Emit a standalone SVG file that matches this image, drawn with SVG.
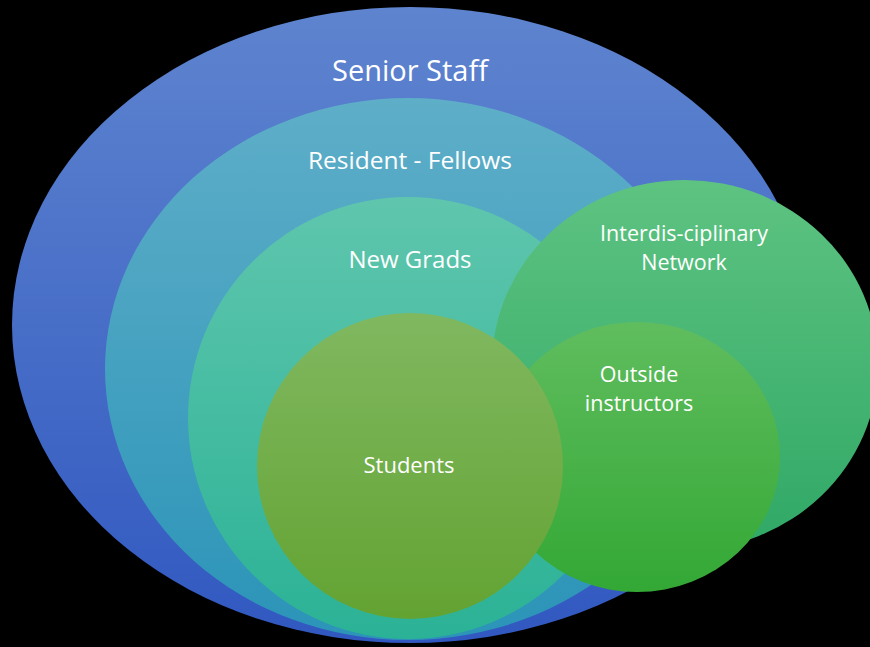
<svg xmlns="http://www.w3.org/2000/svg" width="870" height="647" viewBox="0 0 870 647">
<defs>
<linearGradient id="gSenior" x1="0" y1="0" x2="0" y2="1"><stop offset="0" stop-color="#5e84cf"/><stop offset="1" stop-color="#3158c0"/></linearGradient>
<linearGradient id="gRes" x1="0" y1="0" x2="0" y2="1"><stop offset="0" stop-color="#5eaec8"/><stop offset="1" stop-color="#2b94b8"/></linearGradient>
<linearGradient id="gNew" x1="0" y1="0" x2="0" y2="1"><stop offset="0" stop-color="#5fc6ad"/><stop offset="1" stop-color="#2bb296"/></linearGradient>
<linearGradient id="gInter" x1="0" y1="0" x2="0" y2="1"><stop offset="0" stop-color="#5ec381"/><stop offset="1" stop-color="#30a866"/></linearGradient>
<linearGradient id="gOut" x1="0" y1="0" x2="0" y2="1"><stop offset="0" stop-color="#60bd5e"/><stop offset="1" stop-color="#33a835"/></linearGradient>
<linearGradient id="gStu" x1="0" y1="0" x2="0" y2="1"><stop offset="0" stop-color="#80b860"/><stop offset="1" stop-color="#63a332"/></linearGradient>
</defs>
<style>
text{font-family:"Open Sans","Liberation Sans",sans-serif;fill:#ffffff;text-anchor:middle}
</style>
<rect x="0" y="0" width="870" height="647" fill="#000000"/>
<g id="senior-staff">
<ellipse cx="410" cy="325" rx="398" ry="318" fill="url(#gSenior)"/>
<text x="410" y="81" font-size="29">Senior Staff</text>
</g>
<g id="resident-fellows">
<ellipse cx="408" cy="369" rx="303" ry="271" fill="url(#gRes)"/>
<text x="410" y="169" font-size="24.5">Resident - Fellows</text>
</g>
<g id="new-grads">
<ellipse cx="408" cy="418" rx="220" ry="221" fill="url(#gNew)"/>
<text x="410" y="268" font-size="24">New Grads</text>
</g>
<g id="interdisciplinary-network">
<ellipse cx="685" cy="365" rx="193" ry="185" fill="url(#gInter)"/>
<text x="684" y="241" font-size="21.5">Interdis-ciplinary</text>
<text x="684" y="270" font-size="21.5">Network</text>
</g>
<g id="outside-instructors">
<ellipse cx="637" cy="457" rx="143" ry="135" fill="url(#gOut)"/>
<text x="639" y="382" font-size="21.5">Outside</text>
<text x="639" y="411" font-size="21.5">instructors</text>
</g>
<g id="students">
<circle cx="410" cy="466" r="153" fill="url(#gStu)"/>
<text x="409" y="473" font-size="22">Students</text>
</g>
<g id="connectors"/>
</svg>
